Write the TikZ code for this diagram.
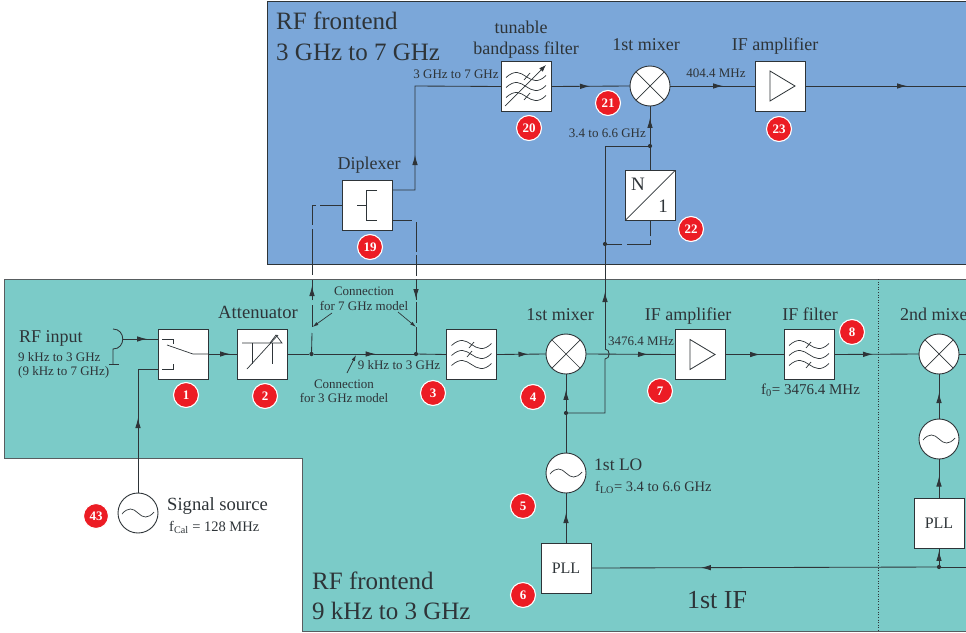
\documentclass[tikz,border=0pt]{standalone}
\usepackage{fontspec}
\setmainfont{Liberation Serif}
\usetikzlibrary{arrows.meta,decorations.markings}
\definecolor{panelblue}{HTML}{7BA7D9}
\definecolor{panelteal}{HTML}{7BCBC8}
\definecolor{ink}{HTML}{2E3438}
\definecolor{badgered}{HTML}{EC1C24}
\newcommand{\fs}[1]{\fontsize{#1}{#1}\selectfont}
\tikzset{
  wire/.style={draw=ink,line width=0.85pt},
  glyph/.style={draw=ink,line width=0.7pt},
  tipat/.style={decoration={markings,mark=at position #1pt with {\arrow{Latex[length=10pt,width=5.5pt]}}},postaction={decorate}},
  block/.style={draw=ink,fill=white,line width=1pt,minimum size=50pt,inner sep=0pt,outer sep=0pt,font=\fs{16}\color{ink}},
  round/.style={draw=ink,fill=white,circle,line width=0.9pt,minimum size=40pt,inner sep=0pt,outer sep=0pt},
  dotn/.style={circle,fill=ink,minimum size=4.2pt,inner sep=0pt,outer sep=0pt},
  badge/.style={circle,fill=badgered,draw=white,line width=1.1pt,minimum size=25pt,inner sep=0pt,font=\fs{13}\bfseries\color{white}},
  big/.style={anchor=base west,inner sep=0pt,font=\fs{25}\color{ink}},
  mid/.style={anchor=base,inner sep=0pt,font=\fs{18}\color{ink}},
  midw/.style={anchor=base west,inner sep=0pt,font=\fs{18}\color{ink}},
  tiny/.style={anchor=base,inner sep=0pt,font=\fs{13}\color{ink}},
  tinyw/.style={anchor=base west,inner sep=0pt,font=\fs{13}\color{ink}},
  tinye/.style={anchor=base east,inner sep=0pt,font=\fs{13}\color{ink}},
  leader/.style={draw=ink,line width=0.7pt,-{Latex[length=6pt,width=3.5pt]}},
  waves/.pic={
    \foreach \yy in {-10,0,10}{
      \draw[glyph] (-20,\yy+1) .. controls (-11,\yy-7) and (-6,\yy-4) .. (0,\yy)
        .. controls (6,\yy+4) and (12,\yy+7) .. (20,\yy-1);
    }
  },
  sine/.pic={\draw[glyph] (-16,1) .. controls (-10,-6) and (-5,-5) .. (0,0) .. controls (5,5) and (10,6) .. (16,-1);},
  amptri/.pic={\draw[glyph,line width=0.8pt] (-10,-15) -- (15,0) -- (-10,15) -- cycle;}
}
\begin{document}
\begin{tikzpicture}[x=1pt,y=-1pt]
\clip (0,0) rectangle (966,632);
\fill[white] (0,0) rectangle (966,632);
% panels
\draw[fill=panelteal,draw=ink!80,line width=1pt] (970,279) -- (4,279) -- (4,458) -- (302,458) -- (302,631) -- (970,631);
\draw[fill=panelblue,draw=ink,line width=1pt] (970,1) -- (267,1) -- (267,264) -- (970,264);
\draw[ink,line width=0.6pt,dotted] (878,279) -- (878,632);

% blocks
\node[block] (sw)  at (183,354) {};
\node[block] (att) at (262,354) {};
\node[block] (f3)  at (471.5,354.5) {};
\node[round] (m1)  at (566,354) {};
\node[block] (amp) at (700,354.5) {};
\node[block] (iff) at (809,354.5) {};
\node[round] (m2)  at (939,354) {};
\node[round] (lo2) at (939,439) {};
\node[block] (pll2) at (939,523.5) {PLL};
\node[block] (pll1) at (566,568) {PLL};
\node[round] (lo1) at (566,473) {};
\node[round] (src) at (138,513) {};
\node[block] (dip) at (367,205) {};
\node[block] (tbf) at (526,86.5) {};
\node[round] (m21) at (650,86) {};
\node[block] (amp2) at (780,86) {};
\node[block] (div) at (650,195.5) {};

% helper points
\coordinate (ant) at (123,339);
\coordinate (swa) at (158,339);
\coordinate (swb) at (158,369);
\coordinate (cal) at (138,369);
\node[dotn] (d1) at (311.5,354) {};
\node[dotn] (d2) at (416,354) {};
\node[dotn] (d3) at (566,413) {};
\node[dotn] (d4) at (650,146) {};
\node[dotn] (d5) at (605,244) {};
\node[dotn] (d6) at (939,567) {};
\coordinate (c1) at (605,413);
\coordinate (j1) at (605,359);
\coordinate (j2) at (605,349);
\coordinate (c2) at (605,146);
\coordinate (e1) at (966,86);
\coordinate (e2) at (966,354);
\coordinate (e3) at (966,567);
\coordinate (du) at (392,190);
\coordinate (dl) at (392,220);
\coordinate (dw) at (342,205);
\coordinate (u1) at (415,190);
\coordinate (u2) at (415,86);

% connectors
\draw[wire,tipat=24] (ant) -- (swa);
\draw[wire,tipat=22] (sw.east) -- (att.west);
\draw[wire] (att.east) -- (d1);
\draw[wire,tipat=62] (d1) -- (d2);
\draw[wire] (d2) -- (f3.west);
\draw[wire,tipat=32] (f3.east) -- (m1.west);
\draw[wire,tipat=62] (m1.east) -- (amp.west);
\draw[wire,tipat=35] (amp.east) -- (iff.west);
\draw[wire,tipat=39] (iff.east) -- (m2.west);
\draw[wire] (m2.east) -- (e2);
\draw[wire,tipat=21] (d3) -- (m1.south);
\draw[wire] (lo1.north) -- (d3);
\draw[wire] (d3) -- (c1) -- (j1) .. controls (610.5,359) and (610.5,349) .. (j2);
\draw[wire,tipat=57] (j2) -- (c2) -- (d4);
\draw[wire,tipat=26] (d4) -- (m21.south);
\draw[wire,tipat=30] (pll1.north) -- (lo1.south);
\draw[wire,tipat=236] (d6) -- (pll1.east);
\draw[wire] (d6) -- (e3);
\draw[wire,tipat=14] (d6) -- (pll2.south);
\draw[wire,tipat=22] (pll2.north) -- (lo2.south);
\draw[wire,tipat=26] (lo2.north) -- (m2.south);
\draw[wire,tipat=75] (src.north) -- (cal) -- (swb);
\draw[wire,tipat=58] (du) -- (u1) -- (u2) -- (tbf.west);
\draw[wire,tipat=39] (tbf.east) -- (m21.west);
\draw[wire,tipat=53] (m21.east) -- (amp2.west);
\draw[wire,tipat=102] (amp2.east) -- (e1);
% dashed model options
\draw[wire] (dw) -- (320,205) (316,205) -- (312,205) -- (312,225) (312,229) -- (312,275);
\draw[wire,tipat=14] (312,300) -- (312,280);
\draw[wire] (312,305) -- (312,327);
\draw[wire] (312,333) -- (d1);
\draw[wire] (dl) -- (412,220) (416,222) -- (416,252) (416,255) -- (416,276);
\draw[wire,tipat=20] (416,279) -- (416,300);
\draw[wire] (416,302) -- (416,323);
\draw[wire] (416,327) -- (d2);
\draw[wire] (d5) -- (622,244) (627,244) -- (650,244) -- (650,240) (650,236) -- (div.south);
\draw[wire] (div.north) -- (650,166);
\draw[wire] (650,166) -- (d4);
% leaders
\draw[leader] (332,313) -- (312.5,327);
\draw[leader] (398,312) -- (416,327);
\draw[leader] (347,373) -- (356,355);

% antenna
\draw[glyph,line width=0.85pt] (113,329) .. controls (126,329) and (126,349) .. (113,349) -- (113,364);
\draw[glyph,line width=0.85pt] (109,364) -- (119,364);

% glyphs
\draw[glyph] (162,339) -- (173,339) -- (173,344);
\draw[glyph] (162,369) -- (173,369) -- (173,364);
\draw[glyph] (167,345) -- (193,354) -- (sw.east);
\draw[glyph] (242,343) -- (282,343) -- (276,335) -- (270,343);
\draw[glyph] (252,343) -- (252,364);
\draw[glyph] (272,343) -- (272,364);
\draw[glyph] (247,369) -- (278,335);
\draw[glyph] (357,205) -- (366.5,205);
\draw[glyph] (377,190) -- (366.5,190) -- (366.5,220) -- (377,220);
\draw[glyph] (div.south west) -- (div.north east);
\pic at (f3) {waves};
\draw[glyph] (469,348) -- (474,342) (467,357) -- (472,351);
\pic at (iff) {waves};
\draw[glyph] (806,348) -- (811,342) (806,368) -- (811,362);
\pic at (tbf) {waves};
\draw[glyph] (524,80) -- (530,73) (524,100) -- (530,93);
\draw[glyph,-{Latex[length=7pt,width=5pt]}] (505,106) -- (546,65);
\pic at (amp) {amptri};
\pic at (amp2) {amptri};
\pic at (lo1) {sine};
\pic at (lo2) {sine};
\pic at (src) {sine};
\foreach \m in {m1,m2,m21}{
  \draw[glyph] (\m.45) -- (\m.225) (\m.135) -- (\m.315);
}

% texts
\node[big] (t1) at (276,29) {RF frontend};
\node[big] (t2) at (276,60) {3 GHz to 7 GHz};
\node[big] (t3) at (312,589) {RF frontend};
\node[big] (t4) at (312,619) {9 kHz to 3 GHz};
\node[anchor=base,inner sep=0pt,font=\fs{26}\color{ink}] (t5) at (717,608) {1st IF};
\node[mid] (t6) at (521,33) {tunable};
\node[mid] (t7) at (526,54) {bandpass filter};
\node[mid] (t8) at (646,50) {1st mixer};
\node[mid] (t9) at (775,50) {IF amplifier};
\node[mid] (t10) at (369,169) {Diplexer};
\node[mid,font=\fs{18.6}\color{ink}] (t11) at (258,318) {Attenuator};
\node[midw] (t12) at (19,342) {RF input};
\node[mid] (t13) at (560,320) {1st mixer};
\node[mid] (t14) at (688,320) {IF amplifier};
\node[mid] (t15) at (810,320) {IF filter};
\node[midw] (t16) at (900,320) {2nd mixer};
\node[midw,font=\fs{17.5}\color{ink}] (t17) at (594,470) {1st LO};
\node[midw,font=\fs{18.6}\color{ink}] (t18) at (167,510) {Signal source};
\node[tinyw] (t19) at (18,361) {9 kHz to 3 GHz};
\node[tinyw] (t20) at (18,375) {(9 kHz to 7 GHz)};
\node[tiny] (t21) at (364,295) {Connection};
\node[tiny] (t22) at (364,310) {for 7 GHz model};
\node[tiny] (t23) at (399,369) {9 kHz to 3 GHz};
\node[tiny] (t24) at (344,388) {Connection};
\node[tiny] (t25) at (344,402) {for 3 GHz model};
\node[tinyw] (t26) at (608,345) {3476.4 MHz};
\node[tiny] (t27) at (456,78) {3 GHz to 7 GHz};
\node[tiny] (t28) at (716,77) {404.4 MHz};
\node[tinye] (t29) at (646,137) {3.4 to 6.6 GHz};
\node[tinyw,font=\fs{15}\color{ink}] (t30) at (761,394) {f\textsubscript{0}= 3476.4 MHz};
\node[tinyw,font=\fs{14.5}\color{ink}] (t31) at (595,491) {f\textsubscript{LO}= 3.4 to 6.6 GHz};
\node[tinyw,font=\fs{14.5}\color{ink}] (t32) at (169,531) {f\textsubscript{Cal} = 128 MHz};
\node[mid,font=\fs{19}\color{ink}] (tn) at (638,190) {N};
\node[mid,font=\fs{19}\color{ink}] (to) at (663,212) {1};

% badges
\node[badge] (b1) at (186,395) {1};
\node[badge] (b2) at (265,396) {2};
\node[badge] (b3) at (433,393) {3};
\node[badge] (b4) at (533,397) {4};
\node[badge] (b5) at (523,506) {5};
\node[badge] (b6) at (523,595) {6};
\node[badge] (b7) at (660,391) {7};
\node[badge] (b8) at (852,332) {8};
\node[badge] (b19) at (370,247) {19};
\node[badge] (b20) at (529,128) {20};
\node[badge] (b21) at (608,103) {21};
\node[badge] (b22) at (691,229) {22};
\node[badge] (b23) at (779,129) {23};
\node[badge] (b43) at (96,516) {43};
\end{tikzpicture}
\end{document}
